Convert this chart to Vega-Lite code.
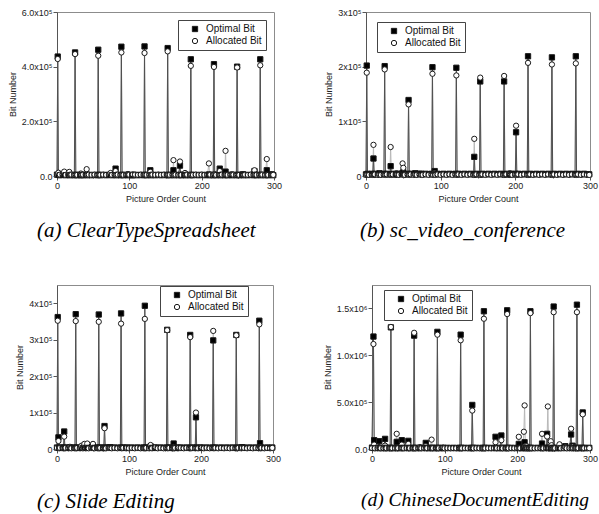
{
"$schema": "https://vega.github.io/schema/vega-lite/v6.json",
"padding": {"left": 7, "top": 7, "right": 0, "bottom": 0},
"background": "white",
"config": {
  "font": "Liberation Sans",
  "view": {"stroke": "#8c8c8c", "strokeWidth": 1},
  "axis": {"grid": false, "labelFont": "Liberation Sans", "labelFontSize": 9, "labelColor": "#222", "titleFont": "Liberation Sans", "titleFontSize": 9, "titleFontWeight": "normal", "titleColor": "#222", "domainColor": "#555", "tickColor": "#555", "labelOverlap": false, "labelFlush": false, "labelPadding": 1, "titlePadding": 4},
  "title": {"font": "Liberation Serif", "fontSize": 21, "fontStyle": "italic", "fontWeight": "normal", "orient": "bottom", "anchor": "start", "frame": "group", "color": "#000", "offset": 17},
  "legend": {"fillColor": "#ffffff", "strokeColor": "#444", "padding": 4, "labelFont": "Liberation Sans", "labelFontSize": 10, "labelColor": "#111", "symbolSize": 28, "symbolStrokeWidth": 1, "rowPadding": 2, "symbolOffset": 8, "labelOffset": 6}
},
"datasets": {
"a": [
{"p":0,"o":5000,"a":4000},{"p":1,"o":437000,"a":428000},{"p":2,"o":4000,"a":12000},{"p":4,"o":3000,"a":5000},{"p":8,"o":4000,"a":6000},{"p":10,"o":6000,"a":16000},{"p":12,"o":3000,"a":4000},{"p":16,"o":4000,"a":5000},{"p":17,"o":5000,"a":15000},{"p":18,"o":3000,"a":4000},{"p":20,"o":4000,"a":5000},{"p":24,"o":3000,"a":4000},{"p":25,"o":452000,"a":446000},{"p":26,"o":4000,"a":5000},{"p":28,"o":3000,"a":4000},{"p":32,"o":4000,"a":5000},{"p":33,"o":3000,"a":9000},{"p":34,"o":4000,"a":4000},{"p":36,"o":3000,"a":5000},{"p":40,"o":4000,"a":5000},{"p":41,"o":5000,"a":25000},{"p":42,"o":3000,"a":4000},{"p":44,"o":4000,"a":5000},{"p":48,"o":3000,"a":4000},{"p":52,"o":4000,"a":5000},{"p":56,"o":3000,"a":4000},{"p":57,"o":462000,"a":440000},{"p":58,"o":4000,"a":5000},{"p":60,"o":3000,"a":4000},{"p":64,"o":4000,"a":5000},{"p":68,"o":3000,"a":4000},{"p":72,"o":4000,"a":5000},{"p":74,"o":5000,"a":11000},{"p":76,"o":3000,"a":4000},{"p":80,"o":4000,"a":5000},{"p":81,"o":27000,"a":18000},{"p":82,"o":3000,"a":4000},{"p":84,"o":4000,"a":5000},{"p":88,"o":3000,"a":4000},{"p":89,"o":473000,"a":452000},{"p":90,"o":4000,"a":5000},{"p":92,"o":3000,"a":4000},{"p":96,"o":4000,"a":5000},{"p":98,"o":3000,"a":7000},{"p":100,"o":4000,"a":5000},{"p":104,"o":3000,"a":4000},{"p":105,"o":3000,"a":6000},{"p":108,"o":4000,"a":5000},{"p":112,"o":3000,"a":4000},{"p":116,"o":4000,"a":5000},{"p":120,"o":3000,"a":4000},{"p":121,"o":474000,"a":450000},{"p":122,"o":4000,"a":5000},{"p":124,"o":3000,"a":4000},{"p":128,"o":4000,"a":5000},{"p":129,"o":21000,"a":15000},{"p":130,"o":3000,"a":4000},{"p":132,"o":4000,"a":5000},{"p":136,"o":3000,"a":4000},{"p":140,"o":4000,"a":5000},{"p":144,"o":3000,"a":4000},{"p":148,"o":4000,"a":5000},{"p":152,"o":3000,"a":4000},{"p":153,"o":468000,"a":456000},{"p":154,"o":4000,"a":5000},{"p":156,"o":3000,"a":4000},{"p":160,"o":4000,"a":5000},{"p":161,"o":21000,"a":58000},{"p":162,"o":3000,"a":4000},{"p":164,"o":4000,"a":5000},{"p":168,"o":3000,"a":4000},{"p":170,"o":38000,"a":53000},{"p":171,"o":4000,"a":5000},{"p":172,"o":3000,"a":4000},{"p":176,"o":4000,"a":5000},{"p":177,"o":4000,"a":11000},{"p":178,"o":3000,"a":4000},{"p":180,"o":4000,"a":5000},{"p":184,"o":3000,"a":4000},{"p":185,"o":427000,"a":403000},{"p":186,"o":4000,"a":5000},{"p":188,"o":3000,"a":4000},{"p":192,"o":4000,"a":5000},{"p":196,"o":3000,"a":4000},{"p":200,"o":4000,"a":5000},{"p":204,"o":3000,"a":4000},{"p":208,"o":4000,"a":5000},{"p":210,"o":5000,"a":46000},{"p":211,"o":3000,"a":4000},{"p":212,"o":4000,"a":5000},{"p":216,"o":3000,"a":4000},{"p":217,"o":409000,"a":399000},{"p":218,"o":4000,"a":7000},{"p":220,"o":3000,"a":4000},{"p":224,"o":4000,"a":5000},{"p":225,"o":27000,"a":18000},{"p":226,"o":3000,"a":4000},{"p":228,"o":4000,"a":5000},{"p":232,"o":3000,"a":4000},{"p":233,"o":16000,"a":92000},{"p":234,"o":4000,"a":5000},{"p":236,"o":3000,"a":4000},{"p":240,"o":4000,"a":5000},{"p":242,"o":3000,"a":6000},{"p":244,"o":4000,"a":5000},{"p":248,"o":3000,"a":4000},{"p":249,"o":400000,"a":397000},{"p":250,"o":4000,"a":5000},{"p":252,"o":3000,"a":4000},{"p":256,"o":4000,"a":5000},{"p":257,"o":6000,"a":4000},{"p":258,"o":3000,"a":4000},{"p":260,"o":4000,"a":5000},{"p":264,"o":3000,"a":4000},{"p":268,"o":4000,"a":5000},{"p":272,"o":3000,"a":4000},{"p":273,"o":18000,"a":21000},{"p":274,"o":4000,"a":5000},{"p":276,"o":3000,"a":4000},{"p":280,"o":4000,"a":5000},{"p":281,"o":427000,"a":405000},{"p":282,"o":3000,"a":4000},{"p":284,"o":4000,"a":5000},{"p":288,"o":3000,"a":4000},{"p":290,"o":21000,"a":62000},{"p":291,"o":4000,"a":5000},{"p":292,"o":3000,"a":4000},{"p":296,"o":4000,"a":5000},{"p":297,"o":6000,"a":4000},{"p":299,"o":3000,"a":4000}
],
"b": [
{"p":0,"o":3000,"a":2000},{"p":1,"o":202000,"a":189000},{"p":2,"o":4000,"a":3000},{"p":4,"o":3000,"a":2000},{"p":8,"o":4000,"a":3000},{"p":9,"o":3000,"a":2000},{"p":10,"o":32000,"a":57000},{"p":11,"o":3000,"a":2000},{"p":12,"o":4000,"a":3000},{"p":16,"o":3000,"a":2000},{"p":18,"o":5000,"a":3000},{"p":20,"o":3000,"a":2000},{"p":24,"o":4000,"a":3000},{"p":25,"o":201000,"a":195000},{"p":26,"o":3000,"a":2000},{"p":28,"o":4000,"a":3000},{"p":32,"o":3000,"a":2000},{"p":33,"o":18000,"a":53000},{"p":34,"o":3000,"a":2000},{"p":36,"o":4000,"a":3000},{"p":40,"o":3000,"a":2000},{"p":41,"o":3000,"a":5000},{"p":42,"o":4000,"a":3000},{"p":44,"o":3000,"a":2000},{"p":48,"o":4000,"a":3000},{"p":49,"o":5000,"a":23000},{"p":50,"o":7000,"a":15000},{"p":51,"o":3000,"a":2000},{"p":52,"o":3000,"a":2000},{"p":56,"o":4000,"a":3000},{"p":57,"o":139000,"a":131000},{"p":58,"o":3000,"a":2000},{"p":60,"o":4000,"a":3000},{"p":64,"o":3000,"a":2000},{"p":66,"o":5000,"a":3000},{"p":68,"o":3000,"a":2000},{"p":72,"o":4000,"a":3000},{"p":74,"o":4000,"a":2000},{"p":76,"o":3000,"a":2000},{"p":80,"o":4000,"a":3000},{"p":84,"o":3000,"a":2000},{"p":88,"o":4000,"a":3000},{"p":89,"o":199000,"a":187000},{"p":90,"o":3000,"a":2000},{"p":92,"o":9000,"a":5000},{"p":93,"o":3000,"a":2000},{"p":96,"o":4000,"a":3000},{"p":100,"o":3000,"a":2000},{"p":104,"o":4000,"a":3000},{"p":108,"o":3000,"a":2000},{"p":112,"o":4000,"a":3000},{"p":116,"o":3000,"a":2000},{"p":120,"o":4000,"a":3000},{"p":121,"o":198000,"a":184000},{"p":122,"o":3000,"a":2000},{"p":124,"o":4000,"a":3000},{"p":128,"o":3000,"a":2000},{"p":132,"o":4000,"a":3000},{"p":136,"o":3000,"a":2000},{"p":140,"o":4000,"a":3000},{"p":144,"o":3000,"a":2000},{"p":145,"o":35000,"a":68000},{"p":146,"o":3000,"a":2000},{"p":148,"o":4000,"a":3000},{"p":152,"o":3000,"a":2000},{"p":153,"o":173000,"a":180000},{"p":154,"o":3000,"a":2000},{"p":156,"o":4000,"a":3000},{"p":160,"o":3000,"a":2000},{"p":164,"o":4000,"a":3000},{"p":168,"o":3000,"a":2000},{"p":172,"o":4000,"a":3000},{"p":176,"o":3000,"a":2000},{"p":180,"o":4000,"a":3000},{"p":184,"o":3000,"a":2000},{"p":185,"o":173000,"a":183000},{"p":186,"o":3000,"a":2000},{"p":188,"o":4000,"a":3000},{"p":192,"o":3000,"a":2000},{"p":193,"o":3000,"a":5000},{"p":194,"o":4000,"a":3000},{"p":196,"o":3000,"a":2000},{"p":200,"o":4000,"a":3000},{"p":201,"o":80000,"a":92000},{"p":202,"o":3000,"a":2000},{"p":204,"o":4000,"a":3000},{"p":208,"o":3000,"a":2000},{"p":212,"o":4000,"a":3000},{"p":216,"o":3000,"a":2000},{"p":217,"o":219000,"a":207000},{"p":218,"o":3000,"a":2000},{"p":220,"o":4000,"a":3000},{"p":224,"o":3000,"a":2000},{"p":228,"o":4000,"a":3000},{"p":232,"o":3000,"a":2000},{"p":236,"o":4000,"a":3000},{"p":240,"o":3000,"a":2000},{"p":244,"o":4000,"a":3000},{"p":248,"o":3000,"a":2000},{"p":249,"o":217000,"a":204000},{"p":250,"o":3000,"a":2000},{"p":252,"o":4000,"a":3000},{"p":256,"o":3000,"a":2000},{"p":260,"o":4000,"a":3000},{"p":264,"o":3000,"a":2000},{"p":268,"o":4000,"a":3000},{"p":272,"o":3000,"a":2000},{"p":276,"o":4000,"a":3000},{"p":280,"o":3000,"a":2000},{"p":281,"o":219000,"a":206000},{"p":282,"o":3000,"a":2000},{"p":284,"o":4000,"a":3000},{"p":288,"o":3000,"a":2000},{"p":292,"o":4000,"a":3000},{"p":296,"o":3000,"a":2000},{"p":299,"o":3000,"a":2000}
],
"c": [
{"p":0,"o":4000,"a":3000},{"p":1,"o":362000,"a":352000},{"p":2,"o":32000,"a":22000},{"p":3,"o":3000,"a":2000},{"p":4,"o":4000,"a":3000},{"p":8,"o":3000,"a":5000},{"p":9,"o":3000,"a":2000},{"p":10,"o":48000,"a":34000},{"p":11,"o":3000,"a":2000},{"p":12,"o":4000,"a":3000},{"p":16,"o":3000,"a":2000},{"p":18,"o":4000,"a":6000},{"p":20,"o":3000,"a":2000},{"p":24,"o":4000,"a":3000},{"p":25,"o":3000,"a":2000},{"p":26,"o":370000,"a":351000},{"p":27,"o":3000,"a":2000},{"p":28,"o":4000,"a":3000},{"p":32,"o":3000,"a":2000},{"p":34,"o":4000,"a":9000},{"p":36,"o":3000,"a":2000},{"p":38,"o":5000,"a":14000},{"p":40,"o":3000,"a":2000},{"p":42,"o":4000,"a":15000},{"p":44,"o":3000,"a":2000},{"p":48,"o":4000,"a":3000},{"p":50,"o":6000,"a":14000},{"p":52,"o":3000,"a":2000},{"p":56,"o":4000,"a":3000},{"p":57,"o":3000,"a":2000},{"p":58,"o":369000,"a":349000},{"p":59,"o":3000,"a":2000},{"p":60,"o":4000,"a":3000},{"p":64,"o":3000,"a":2000},{"p":65,"o":3000,"a":2000},{"p":66,"o":63000,"a":57000},{"p":67,"o":4000,"a":3000},{"p":68,"o":3000,"a":2000},{"p":72,"o":4000,"a":3000},{"p":74,"o":5000,"a":3000},{"p":76,"o":3000,"a":2000},{"p":80,"o":4000,"a":3000},{"p":84,"o":3000,"a":2000},{"p":88,"o":4000,"a":3000},{"p":89,"o":372000,"a":344000},{"p":90,"o":3000,"a":2000},{"p":92,"o":4000,"a":3000},{"p":96,"o":3000,"a":2000},{"p":97,"o":4000,"a":3000},{"p":100,"o":3000,"a":2000},{"p":104,"o":4000,"a":3000},{"p":108,"o":3000,"a":2000},{"p":112,"o":4000,"a":3000},{"p":116,"o":3000,"a":2000},{"p":120,"o":4000,"a":3000},{"p":121,"o":3000,"a":2000},{"p":122,"o":393000,"a":357000},{"p":123,"o":3000,"a":2000},{"p":124,"o":4000,"a":3000},{"p":128,"o":3000,"a":2000},{"p":130,"o":7000,"a":11000},{"p":132,"o":3000,"a":2000},{"p":136,"o":4000,"a":3000},{"p":137,"o":3000,"a":5000},{"p":140,"o":3000,"a":2000},{"p":144,"o":4000,"a":3000},{"p":148,"o":3000,"a":2000},{"p":152,"o":4000,"a":3000},{"p":153,"o":327000,"a":326000},{"p":154,"o":3000,"a":2000},{"p":156,"o":4000,"a":3000},{"p":160,"o":3000,"a":2000},{"p":161,"o":3000,"a":2000},{"p":162,"o":15000,"a":6000},{"p":163,"o":3000,"a":2000},{"p":164,"o":4000,"a":3000},{"p":168,"o":3000,"a":2000},{"p":169,"o":3000,"a":4000},{"p":172,"o":4000,"a":3000},{"p":176,"o":3000,"a":2000},{"p":180,"o":4000,"a":3000},{"p":184,"o":3000,"a":2000},{"p":185,"o":313000,"a":307000},{"p":186,"o":3000,"a":2000},{"p":188,"o":4000,"a":3000},{"p":192,"o":3000,"a":2000},{"p":193,"o":87000,"a":100000},{"p":194,"o":4000,"a":3000},{"p":196,"o":3000,"a":2000},{"p":200,"o":4000,"a":3000},{"p":201,"o":3000,"a":4000},{"p":204,"o":3000,"a":2000},{"p":208,"o":4000,"a":3000},{"p":212,"o":3000,"a":2000},{"p":216,"o":4000,"a":3000},{"p":217,"o":298000,"a":324000},{"p":218,"o":3000,"a":2000},{"p":220,"o":4000,"a":3000},{"p":224,"o":3000,"a":2000},{"p":228,"o":4000,"a":3000},{"p":232,"o":3000,"a":2000},{"p":236,"o":4000,"a":3000},{"p":240,"o":3000,"a":2000},{"p":244,"o":4000,"a":3000},{"p":248,"o":3000,"a":2000},{"p":249,"o":313000,"a":312000},{"p":250,"o":3000,"a":2000},{"p":252,"o":4000,"a":3000},{"p":256,"o":3000,"a":2000},{"p":257,"o":5000,"a":3000},{"p":260,"o":4000,"a":3000},{"p":264,"o":3000,"a":2000},{"p":268,"o":4000,"a":3000},{"p":272,"o":3000,"a":2000},{"p":276,"o":4000,"a":3000},{"p":280,"o":3000,"a":2000},{"p":281,"o":352000,"a":342000},{"p":282,"o":16000,"a":6000},{"p":283,"o":3000,"a":2000},{"p":284,"o":4000,"a":3000},{"p":288,"o":3000,"a":2000},{"p":292,"o":4000,"a":3000},{"p":296,"o":3000,"a":2000},{"p":299,"o":4000,"a":3000}
],
"d": [
{"p":0,"o":15000,"a":10000},{"p":2,"o":1200000,"a":1120000},{"p":3,"o":94000,"a":47000},{"p":4,"o":10000,"a":8000},{"p":8,"o":12000,"a":9000},{"p":10,"o":83000,"a":15000},{"p":11,"o":10000,"a":8000},{"p":12,"o":12000,"a":9000},{"p":16,"o":10000,"a":8000},{"p":18,"o":108000,"a":36000},{"p":19,"o":10000,"a":8000},{"p":20,"o":12000,"a":9000},{"p":24,"o":10000,"a":8000},{"p":25,"o":12000,"a":9000},{"p":26,"o":1298000,"a":1302000},{"p":27,"o":10000,"a":8000},{"p":28,"o":12000,"a":9000},{"p":32,"o":10000,"a":8000},{"p":34,"o":76000,"a":162000},{"p":35,"o":10000,"a":8000},{"p":36,"o":12000,"a":9000},{"p":40,"o":10000,"a":8000},{"p":41,"o":94000,"a":47000},{"p":42,"o":12000,"a":9000},{"p":44,"o":10000,"a":8000},{"p":48,"o":12000,"a":9000},{"p":50,"o":87000,"a":54000},{"p":51,"o":10000,"a":8000},{"p":52,"o":12000,"a":9000},{"p":56,"o":10000,"a":8000},{"p":57,"o":12000,"a":9000},{"p":58,"o":1210000,"a":1240000},{"p":59,"o":10000,"a":8000},{"p":60,"o":12000,"a":9000},{"p":64,"o":10000,"a":8000},{"p":66,"o":12000,"a":20000},{"p":68,"o":10000,"a":8000},{"p":72,"o":12000,"a":9000},{"p":74,"o":65000,"a":30000},{"p":75,"o":10000,"a":8000},{"p":76,"o":12000,"a":9000},{"p":80,"o":10000,"a":8000},{"p":82,"o":12000,"a":100000},{"p":83,"o":10000,"a":8000},{"p":84,"o":12000,"a":9000},{"p":88,"o":10000,"a":8000},{"p":89,"o":12000,"a":9000},{"p":90,"o":1250000,"a":1220000},{"p":91,"o":10000,"a":8000},{"p":92,"o":12000,"a":9000},{"p":96,"o":10000,"a":8000},{"p":98,"o":12000,"a":15000},{"p":100,"o":10000,"a":8000},{"p":104,"o":12000,"a":9000},{"p":108,"o":10000,"a":8000},{"p":112,"o":12000,"a":9000},{"p":116,"o":10000,"a":8000},{"p":120,"o":12000,"a":9000},{"p":121,"o":10000,"a":8000},{"p":122,"o":1220000,"a":1160000},{"p":123,"o":12000,"a":9000},{"p":124,"o":10000,"a":8000},{"p":128,"o":12000,"a":9000},{"p":132,"o":10000,"a":8000},{"p":136,"o":12000,"a":9000},{"p":137,"o":10000,"a":8000},{"p":138,"o":470000,"a":410000},{"p":139,"o":12000,"a":9000},{"p":140,"o":10000,"a":8000},{"p":144,"o":12000,"a":9000},{"p":148,"o":10000,"a":8000},{"p":152,"o":12000,"a":9000},{"p":153,"o":10000,"a":8000},{"p":154,"o":1470000,"a":1390000},{"p":155,"o":12000,"a":9000},{"p":156,"o":10000,"a":8000},{"p":160,"o":12000,"a":9000},{"p":164,"o":10000,"a":8000},{"p":168,"o":12000,"a":9000},{"p":170,"o":130000,"a":72000},{"p":171,"o":10000,"a":8000},{"p":172,"o":12000,"a":9000},{"p":176,"o":10000,"a":8000},{"p":178,"o":144000,"a":94000},{"p":179,"o":12000,"a":9000},{"p":180,"o":10000,"a":8000},{"p":184,"o":12000,"a":9000},{"p":185,"o":10000,"a":8000},{"p":186,"o":1480000,"a":1440000},{"p":187,"o":12000,"a":9000},{"p":188,"o":10000,"a":8000},{"p":192,"o":12000,"a":9000},{"p":196,"o":10000,"a":8000},{"p":200,"o":12000,"a":9000},{"p":202,"o":54000,"a":130000},{"p":203,"o":10000,"a":8000},{"p":204,"o":12000,"a":9000},{"p":208,"o":10000,"a":8000},{"p":209,"o":12000,"a":184000},{"p":210,"o":72000,"a":465000},{"p":211,"o":10000,"a":30000},{"p":212,"o":12000,"a":9000},{"p":213,"o":10000,"a":30000},{"p":214,"o":12000,"a":9000},{"p":216,"o":10000,"a":8000},{"p":217,"o":12000,"a":9000},{"p":218,"o":1470000,"a":1450000},{"p":219,"o":10000,"a":8000},{"p":220,"o":12000,"a":9000},{"p":224,"o":10000,"a":8000},{"p":228,"o":12000,"a":9000},{"p":232,"o":10000,"a":8000},{"p":234,"o":58000,"a":162000},{"p":235,"o":12000,"a":9000},{"p":236,"o":10000,"a":8000},{"p":240,"o":12000,"a":9000},{"p":241,"o":162000,"a":133000},{"p":242,"o":12000,"a":454000},{"p":243,"o":10000,"a":8000},{"p":244,"o":12000,"a":9000},{"p":246,"o":10000,"a":83000},{"p":247,"o":12000,"a":40000},{"p":248,"o":10000,"a":8000},{"p":249,"o":12000,"a":9000},{"p":250,"o":1520000,"a":1460000},{"p":251,"o":10000,"a":8000},{"p":252,"o":12000,"a":9000},{"p":256,"o":10000,"a":8000},{"p":258,"o":12000,"a":50000},{"p":260,"o":10000,"a":8000},{"p":264,"o":12000,"a":9000},{"p":266,"o":30000,"a":20000},{"p":268,"o":10000,"a":8000},{"p":272,"o":12000,"a":9000},{"p":274,"o":155000,"a":216000},{"p":275,"o":10000,"a":8000},{"p":276,"o":35000,"a":25000},{"p":277,"o":12000,"a":9000},{"p":280,"o":10000,"a":8000},{"p":281,"o":12000,"a":9000},{"p":282,"o":1540000,"a":1460000},{"p":283,"o":10000,"a":8000},{"p":284,"o":12000,"a":9000},{"p":288,"o":10000,"a":8000},{"p":289,"o":12000,"a":9000},{"p":290,"o":390000,"a":370000},{"p":291,"o":10000,"a":8000},{"p":292,"o":12000,"a":9000},{"p":296,"o":10000,"a":8000},{"p":299,"o":12000,"a":9000}
]
},
"bounds": "flush",
"spacing": 273,
"resolve": {"scale": {"x": "independent", "y": "independent", "shape": "independent", "fill": "independent", "stroke": "independent"}, "legend": {"shape": "independent", "fill": "independent", "stroke": "independent"}},
"vconcat": [
{
"hconcat": [
{
"width": 217, "height": 164,
"data": {"name": "a"},
"title": {"text": "(a)  ClearTypeSpreadsheet", "dx": -20},
"encoding": {"x": {"field": "p", "type": "quantitative", "title": "Picture Order Count", "scale": {"domain": [0, 300], "nice": false}, "axis": {"values": [0, 50, 100, 150, 200, 250, 300], "labelExpr": "datum.value % 100 == 0 ? datum.label : ''", "tickSize": {"condition": {"test": "datum.value % 100 == 0", "value": 4}, "value": 2}}}},
"layer": [
{"mark": {"type": "line", "stroke": "#b8b8b8", "strokeWidth": 1}, "encoding": {"y": {"field": "a", "type": "quantitative", "title": "Bit Number", "scale": {"domain": [0, 600000], "nice": false}, "axis": {"values": [0, 100000, 200000, 300000, 400000, 500000, 600000], "labelExpr": "datum.value == 0 ? '0.0' : (datum.value % 200000 == 0 ? format(datum.value / 100000, '.1f') + 'x10⁵' : '')", "tickSize": {"condition": {"test": "datum.value % 200000 == 0", "value": 4}, "value": 2}}}}},
{"mark": {"type": "line", "stroke": "#505050", "strokeWidth": 1}, "encoding": {"y": {"field": "o", "type": "quantitative", "title": "Bit Number"}}},
{"transform": [{"fold": ["o", "a"], "as": ["k", "v"]}], "mark": {"type": "point", "filled": true, "size": 28, "strokeWidth": 1, "opacity": 1},
 "encoding": {"y": {"field": "v", "type": "quantitative", "title": "Bit Number"},
  "shape": {"field": "k", "type": "nominal", "scale": {"domain": ["o", "a"], "range": ["square", "circle"]}, "legend": {"title": null, "orient": "none", "legendX": 121, "legendY": 8, "labelExpr": "datum.value == 'o' ? 'Optimal Bit' : 'Allocated Bit'"}},
  "fill": {"field": "k", "type": "nominal", "scale": {"domain": ["o", "a"], "range": ["#000000", "#ffffff"]}, "legend": {"title": null, "orient": "none", "legendX": 121, "legendY": 8, "labelExpr": "datum.value == 'o' ? 'Optimal Bit' : 'Allocated Bit'"}},
  "stroke": {"field": "k", "type": "nominal", "scale": {"domain": ["o", "a"], "range": ["#1a1a1a", "#1a1a1a"]}, "legend": {"title": null, "orient": "none", "legendX": 121, "legendY": 8, "labelExpr": "datum.value == 'o' ? 'Optimal Bit' : 'Allocated Bit'"}}}}
]
},
{
"width": 224, "height": 164,
"data": {"name": "b"},
"title": {"text": "(b)  sc_video_conference", "dx": -6},
"encoding": {"x": {"field": "p", "type": "quantitative", "title": "Picture Order Count", "scale": {"domain": [0, 300], "nice": false}, "axis": {"values": [0, 50, 100, 150, 200, 250, 300], "labelExpr": "datum.value % 100 == 0 ? datum.label : ''", "tickSize": {"condition": {"test": "datum.value % 100 == 0", "value": 4}, "value": 2}}}},
"layer": [
{"mark": {"type": "line", "stroke": "#b8b8b8", "strokeWidth": 1}, "encoding": {"y": {"field": "a", "type": "quantitative", "title": "Bit Number", "scale": {"domain": [0, 300000], "nice": false}, "axis": {"values": [0, 50000, 100000, 150000, 200000, 250000, 300000], "labelExpr": "datum.value == 0 ? '0' : (datum.value % 100000 == 0 ? format(datum.value / 100000, 'd') + 'x10⁵' : '')", "tickSize": {"condition": {"test": "datum.value % 100000 == 0", "value": 4}, "value": 2}}}}},
{"mark": {"type": "line", "stroke": "#505050", "strokeWidth": 1}, "encoding": {"y": {"field": "o", "type": "quantitative", "title": "Bit Number"}}},
{"transform": [{"fold": ["o", "a"], "as": ["k", "v"]}], "mark": {"type": "point", "filled": true, "size": 28, "strokeWidth": 1, "opacity": 1},
 "encoding": {"y": {"field": "v", "type": "quantitative", "title": "Bit Number"},
  "shape": {"field": "k", "type": "nominal", "scale": {"domain": ["o", "a"], "range": ["square", "circle"]}, "legend": {"title": null, "orient": "none", "legendX": 11, "legendY": 10, "labelExpr": "datum.value == 'o' ? 'Optimal Bit' : 'Allocated Bit'"}},
  "fill": {"field": "k", "type": "nominal", "scale": {"domain": ["o", "a"], "range": ["#000000", "#ffffff"]}, "legend": {"title": null, "orient": "none", "legendX": 11, "legendY": 10, "labelExpr": "datum.value == 'o' ? 'Optimal Bit' : 'Allocated Bit'"}},
  "stroke": {"field": "k", "type": "nominal", "scale": {"domain": ["o", "a"], "range": ["#1a1a1a", "#1a1a1a"]}, "legend": {"title": null, "orient": "none", "legendX": 11, "legendY": 10, "labelExpr": "datum.value == 'o' ? 'Optimal Bit' : 'Allocated Bit'"}}}}
]
}
],
"spacing": 92,
"bounds": "flush",
"resolve": {"scale": {"x": "independent", "y": "independent", "shape": "independent", "fill": "independent", "stroke": "independent"}, "legend": {"shape": "independent", "fill": "independent", "stroke": "independent"}}
},
{
"hconcat": [
{
"width": 216, "height": 164,
"data": {"name": "c"},
"title": {"text": "(c)  Slide Editing", "dx": -20, "offset": 15},
"encoding": {"x": {"field": "p", "type": "quantitative", "title": "Picture Order Count", "scale": {"domain": [0, 300], "nice": false}, "axis": {"values": [0, 50, 100, 150, 200, 250, 300], "labelExpr": "datum.value % 100 == 0 ? datum.label : ''", "tickSize": {"condition": {"test": "datum.value % 100 == 0", "value": 4}, "value": 2}}}},
"layer": [
{"mark": {"type": "line", "stroke": "#b8b8b8", "strokeWidth": 1}, "encoding": {"y": {"field": "a", "type": "quantitative", "title": "Bit Number", "scale": {"domain": [0, 450000], "nice": false}, "axis": {"values": [0, 50000, 100000, 150000, 200000, 250000, 300000, 350000, 400000, 450000], "labelExpr": "datum.value == 0 ? '0' : (datum.value % 100000 == 0 ? format(datum.value / 100000, 'd') + 'x10⁵' : '')", "tickSize": {"condition": {"test": "datum.value % 100000 == 0", "value": 4}, "value": 2}}}}},
{"mark": {"type": "line", "stroke": "#505050", "strokeWidth": 1}, "encoding": {"y": {"field": "o", "type": "quantitative", "title": "Bit Number"}}},
{"transform": [{"fold": ["o", "a"], "as": ["k", "v"]}], "mark": {"type": "point", "filled": true, "size": 28, "strokeWidth": 1, "opacity": 1},
 "encoding": {"y": {"field": "v", "type": "quantitative", "title": "Bit Number"},
  "shape": {"field": "k", "type": "nominal", "scale": {"domain": ["o", "a"], "range": ["square", "circle"]}, "legend": {"title": null, "orient": "none", "legendX": 103, "legendY": 1, "labelExpr": "datum.value == 'o' ? 'Optimal Bit' : 'Allocated Bit'"}},
  "fill": {"field": "k", "type": "nominal", "scale": {"domain": ["o", "a"], "range": ["#000000", "#ffffff"]}, "legend": {"title": null, "orient": "none", "legendX": 103, "legendY": 1, "labelExpr": "datum.value == 'o' ? 'Optimal Bit' : 'Allocated Bit'"}},
  "stroke": {"field": "k", "type": "nominal", "scale": {"domain": ["o", "a"], "range": ["#1a1a1a", "#1a1a1a"]}, "legend": {"title": null, "orient": "none", "legendX": 103, "legendY": 1, "labelExpr": "datum.value == 'o' ? 'Optimal Bit' : 'Allocated Bit'"}}}}
]
},
{
"width": 218, "height": 164,
"data": {"name": "d"},
"title": {"text": "(d) ChineseDocumentEditing", "dx": -11, "fontSize": 19.5, "offset": 15},
"encoding": {"x": {"field": "p", "type": "quantitative", "title": "Picture Order Count", "scale": {"domain": [0, 300], "nice": false}, "axis": {"values": [0, 50, 100, 150, 200, 250, 300], "labelExpr": "datum.value % 100 == 0 ? datum.label : ''", "tickSize": {"condition": {"test": "datum.value % 100 == 0", "value": 4}, "value": 2}}}},
"layer": [
{"mark": {"type": "line", "stroke": "#b8b8b8", "strokeWidth": 1}, "encoding": {"y": {"field": "a", "type": "quantitative", "title": "Bit Number", "scale": {"domain": [0, 1750000], "nice": false}, "axis": {"values": [0, 250000, 500000, 750000, 1000000, 1250000, 1500000, 1750000], "labelExpr": "datum.value == 0 ? '0.0' : (datum.value % 500000 != 0 ? '' : (datum.value < 1000000 ? format(datum.value / 100000, '.1f') + 'x10⁵' : format(datum.value / 1000000, '.1f') + 'x10⁶'))", "tickSize": {"condition": {"test": "datum.value % 500000 == 0", "value": 4}, "value": 2}}}}},
{"mark": {"type": "line", "stroke": "#505050", "strokeWidth": 1}, "encoding": {"y": {"field": "o", "type": "quantitative", "title": "Bit Number"}}},
{"transform": [{"fold": ["o", "a"], "as": ["k", "v"]}], "mark": {"type": "point", "filled": true, "size": 28, "strokeWidth": 1, "opacity": 1},
 "encoding": {"y": {"field": "v", "type": "quantitative", "title": "Bit Number"},
  "shape": {"field": "k", "type": "nominal", "scale": {"domain": ["o", "a"], "range": ["square", "circle"]}, "legend": {"title": null, "orient": "none", "legendX": 12, "legendY": 5, "labelExpr": "datum.value == 'o' ? 'Optimal Bit' : 'Allocated Bit'"}},
  "fill": {"field": "k", "type": "nominal", "scale": {"domain": ["o", "a"], "range": ["#000000", "#ffffff"]}, "legend": {"title": null, "orient": "none", "legendX": 12, "legendY": 5, "labelExpr": "datum.value == 'o' ? 'Optimal Bit' : 'Allocated Bit'"}},
  "stroke": {"field": "k", "type": "nominal", "scale": {"domain": ["o", "a"], "range": ["#1a1a1a", "#1a1a1a"]}, "legend": {"title": null, "orient": "none", "legendX": 12, "legendY": 5, "labelExpr": "datum.value == 'o' ? 'Optimal Bit' : 'Allocated Bit'"}}}}
]
}
],
"spacing": 99,
"bounds": "flush",
"resolve": {"scale": {"x": "independent", "y": "independent", "shape": "independent", "fill": "independent", "stroke": "independent"}, "legend": {"shape": "independent", "fill": "independent", "stroke": "independent"}}
}
]
}
